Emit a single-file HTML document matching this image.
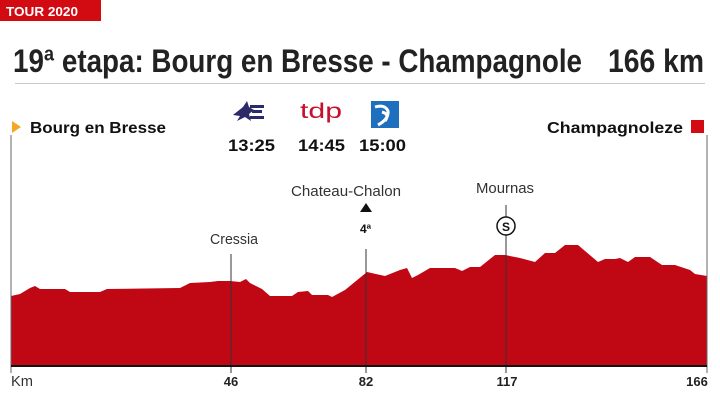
<!DOCTYPE html>
<html><head><meta charset="utf-8"><style>
html,body{margin:0;padding:0;background:#fff;width:720px;height:405px;overflow:hidden}
svg{display:block}
text{font-family:"Liberation Sans",sans-serif}
</style></head><body>
<svg width="720" height="405" viewBox="0 0 720 405" xmlns="http://www.w3.org/2000/svg">
<rect x="0" y="0" width="101" height="21" fill="#d20a11"/>
<text x="6" y="16" font-size="13" font-weight="bold" fill="#fff" textLength="72" lengthAdjust="spacingAndGlyphs">TOUR 2020</text>
<text x="13" y="72" font-size="32" font-weight="bold" fill="#222" textLength="569" lengthAdjust="spacingAndGlyphs">19ª etapa: Bourg en Bresse - Champagnole</text>
<text x="608" y="72" font-size="32" font-weight="bold" fill="#222" textLength="96" lengthAdjust="spacingAndGlyphs">166 km</text>
<line x1="15" y1="83.5" x2="705" y2="83.5" stroke="#c8c8c8" stroke-width="1"/>

<polygon points="12,121 21,127 12,133" fill="#f5a623"/>
<text x="30" y="133" font-size="16" font-weight="bold" fill="#111" textLength="136" lengthAdjust="spacingAndGlyphs">Bourg en Bresse</text>
<text x="547" y="133" font-size="16" font-weight="bold" fill="#111" textLength="136" lengthAdjust="spacingAndGlyphs">Champagnoleze</text>
<rect x="691" y="120" width="13" height="13" fill="#d20a11"/>

<polygon points="233,115 243,107 247,101 249,107 254,110 249,114 251,121 245,117 237,121 240,116" fill="#2d2a6a"/>
<rect x="250" y="105" width="14" height="3" fill="#2d2a6a"/><rect x="252" y="110" width="10" height="3" fill="#2d2a6a"/><rect x="250" y="116" width="14" height="3" fill="#2d2a6a"/>
<text x="300" y="118" font-size="21" fill="#c8102e" textLength="42" lengthAdjust="spacingAndGlyphs">tdp</text>
<rect x="371" y="101" width="28" height="27" fill="#1f6fbf"/>
<path d="M375,107 q10,-3 13,4 q1,8 -10,14 M382,112 q8,2 3,9" stroke="#fff" stroke-width="3" fill="none"/>
<text x="228" y="151" font-size="17" font-weight="bold" fill="#111" textLength="47" lengthAdjust="spacingAndGlyphs">13:25</text>
<text x="298" y="151" font-size="17" font-weight="bold" fill="#111" textLength="47" lengthAdjust="spacingAndGlyphs">14:45</text>
<text x="359" y="151" font-size="17" font-weight="bold" fill="#111" textLength="47" lengthAdjust="spacingAndGlyphs">15:00</text>

<polygon fill="#c00714" points="11,366 11,296 20,294 30,288 35,286 40,289 65,289 70,292 100,292 107,289 180,288 190,283 210,282 218,281 230,281 240,282 246,279 250,283 262,289 270,296 292,296 298,292 308,291 312,295 328,295 332,297 345,290 367,272 385,276 400,270 407,268 412,278 418,275 430,268 455,268 462,271 470,267 480,267 495,255 505,255 520,258 535,262 545,253 555,253 565,245 578,245 598,262 605,259 615,259 620,258 628,262 635,257 650,257 662,265 675,265 690,270 695,274 707,276 707,366"/>
<line x1="11" y1="135" x2="11" y2="373" stroke="#666" stroke-width="1"/>
<line x1="707" y1="135" x2="707" y2="373" stroke="#666" stroke-width="1"/>
<line x1="231" y1="254" x2="231" y2="373" stroke="#333" stroke-width="1"/>
<line x1="366" y1="249" x2="366" y2="373" stroke="#333" stroke-width="1"/>
<line x1="506" y1="205" x2="506" y2="373" stroke="#333" stroke-width="1"/>
<line x1="11" y1="366" x2="707" y2="366" stroke="#111" stroke-width="2"/>

<text x="210" y="244" font-size="15" fill="#333" textLength="48" lengthAdjust="spacingAndGlyphs">Cressia</text>
<text x="291" y="196" font-size="15" fill="#333" textLength="110" lengthAdjust="spacingAndGlyphs">Chateau-Chalon</text>
<polygon points="366,203 372,212 360,212" fill="#111"/>
<text x="360" y="233" font-size="12" font-weight="bold" fill="#111">4ª</text>
<text x="476" y="193" font-size="15" fill="#333" textLength="58" lengthAdjust="spacingAndGlyphs">Mournas</text>
<circle cx="506" cy="226" r="9" fill="#fff" stroke="#111" stroke-width="1.5"/>
<text x="506" y="231" font-size="12" font-weight="bold" fill="#111" text-anchor="middle">S</text>

<text x="11" y="386" font-size="15" fill="#333" textLength="22" lengthAdjust="spacingAndGlyphs">Km</text>
<text x="231" y="386" font-size="13" font-weight="bold" fill="#222" text-anchor="middle">46</text>
<text x="366" y="386" font-size="13" font-weight="bold" fill="#222" text-anchor="middle">82</text>
<text x="507" y="386" font-size="13" font-weight="bold" fill="#222" text-anchor="middle">117</text>
<text x="697" y="386" font-size="13" font-weight="bold" fill="#222" text-anchor="middle">166</text>
</svg>
</body></html>
